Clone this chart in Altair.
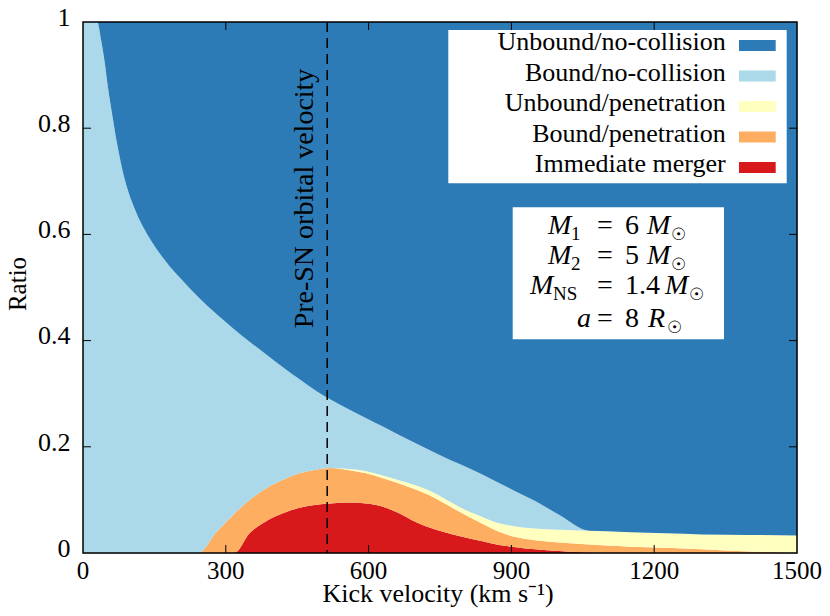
import altair as alt
import pandas as pd

# ---------------- data ----------------
V = [0, 30, 38, 45, 52, 62, 73, 87, 111, 139, 174, 209, 243, 279, 318, 350, 385, 420,
     455, 490, 520, 560, 595, 630, 664, 700, 734, 760, 790, 839, 874, 909, 950, 1000,
     1063, 1100, 1150, 1224, 1300, 1400, 1500]
UNBOUND_NC = [0, 0, 0.034, 0.072, 0.120, 0.178, 0.236, 0.294, 0.357, 0.406,
              0.451, 0.487, 0.519, 0.549, 0.579, 0.602, 0.626, 0.650, 0.673, 0.695,
              0.711, 0.730, 0.746, 0.762, 0.778, 0.794, 0.809, 0.820, 0.832, 0.852,
              0.868, 0.884, 0.902, 0.928, 0.958, 0.959, 0.961, 0.963, 0.965, 0.966, 0.967]
BOUND_NC = [1, 1, 0.966, 0.928, 0.880, 0.822, 0.764, 0.706, 0.643, 0.594,
            0.549, 0.513, 0.481, 0.413, 0.347, 0.298, 0.252, 0.212, 0.177, 0.148,
            0.129, 0.112, 0.100, 0.092, 0.085, 0.079, 0.076, 0.078, 0.081, 0.080,
            0.076, 0.066, 0.052, 0.028, 0, 0, 0, 0, 0, 0, 0]
UNBOUND_PEN = [0, 0, 0, 0, 0, 0, 0, 0, 0, 0,
               0, 0, 0, 0, 0, 0, 0, 0, 0, 0,
               0, 0.002, 0.004, 0.005, 0.006, 0.008, 0.009, 0.009, 0.009, 0.013,
               0.016, 0.020, 0.022, 0.024, 0.026, 0.027, 0.027, 0.027, 0.028, 0.031, 0.032]
BOUND_PEN = [0, 0, 0, 0, 0, 0, 0, 0, 0, 0,
             0, 0, 0, 0.038, 0.074, 0.063, 0.062, 0.063, 0.065, 0.066,
             0.067, 0.061, 0.057, 0.054, 0.056, 0.061, 0.060, 0.054, 0.046, 0.033,
             0.025, 0.019, 0.017, 0.016, 0.015, 0.014, 0.012, 0.010, 0.007, 0.003, 0.001]
MERGER = [0, 0, 0, 0, 0, 0, 0, 0, 0, 0,
          0, 0, 0, 0, 0, 0.037, 0.060, 0.075, 0.085, 0.091,
          0.093, 0.095, 0.093, 0.087, 0.075, 0.058, 0.046, 0.039, 0.032, 0.022,
          0.015, 0.011, 0.007, 0.004, 0.001, 0, 0, 0, 0, 0, 0]

CATS = ["Immediate merger", "Bound/penetration", "Unbound/penetration",
        "Bound/no-collision", "Unbound/no-collision"]
COLORS = ["#d7191c", "#fdae61", "#ffffbf", "#abd9e9", "#2c7bb6"]
LEGEND_ORDER = ["Unbound/no-collision", "Bound/no-collision", "Unbound/penetration",
                "Bound/penetration", "Immediate merger"]

X_TICKS = [0, 300, 600, 900, 1200, 1500]
X_LABELS = ["0", "300", "600", "900", "1200", "1500"]
Y_TICKS = [0, 0.2, 0.4, 0.6, 0.8, 1]
Y_LABELS = ["0", "0.2", "0.4", "0.6", "0.8", "1"]
ORBITAL_V = 513

BOX_LINES = [
    [("M", "i"), ("1", "sub"), ("=", "eq"), ("6", "n"), ("M", "i"), ("☉", "sub")],
    [("M", "i"), ("2", "sub"), ("=", "eq"), ("5", "n"), ("M", "i"), ("☉", "sub")],
    [("M", "i"), ("NS", "sub"), ("=", "eq"), ("1.4", "n"), ("M", "i"), ("☉", "sub")],
    [("a", "i"), ("=", "eq"), ("8", "n"), ("R", "i"), ("☉", "sub")],
]

# ---------------- layout ----------------
W, H = 714, 531
XMAX = 1500
LEFT, TOP = 83.0, 22.0
FONT = "Liberation Serif"
TICK = 8


def dv(px):
    return (px - LEFT) / W * XMAX


def dr(py):
    return 1 - (py - TOP) / H


xs = alt.Scale(domain=[0, XMAX], nice=False, zero=False)
ys = alt.Scale(domain=[0, 1], nice=False, zero=False)


def X(f):
    return alt.X(f"{f}:Q", scale=xs, axis=None)


def Y(f):
    return alt.Y(f"{f}:Q", scale=ys, axis=None)


rows = []
for rank, (cat, vals) in enumerate(zip(CATS, [MERGER, BOUND_PEN, UNBOUND_PEN, BOUND_NC, UNBOUND_NC])):
    for v, f in zip(V, vals):
        rows.append({"v": v, "frac": f, "cat": cat, "rank": rank})
df = pd.DataFrame(rows)

areas = alt.Chart(df).mark_area(interpolate="monotone").encode(
    x=X("v"),
    y=alt.Y("frac:Q", stack="zero", scale=ys, axis=None),
    color=alt.Color("cat:N", scale=alt.Scale(domain=CATS, range=COLORS), legend=None),
    order=alt.Order("rank:Q"),
)

orbital = alt.Chart(pd.DataFrame({"v": [ORBITAL_V]})).mark_rule(
    color="black", strokeWidth=1.5, strokeDash=[10, 6]
).encode(x=X("v"))

orb_text = alt.Chart(pd.DataFrame({"v": [dv(313)], "r": [dr(198.5)], "t": ["Pre-SN orbital velocity"]})).mark_text(
    font=FONT, fontSize=28, angle=270, align="center", baseline="alphabetic", color="black"
).encode(x=X("v"), y=Y("r"), text="t:N")

# legend
leg_box = alt.Chart(pd.DataFrame({"v": [dv(448.3)], "v2": [dv(786.7)], "r": [dr(30)], "r2": [dr(183.3)]})).mark_rect(
    fill="white"
).encode(x=X("v"), x2="v2:Q", y=Y("r"), y2="r2:Q")

LEG_BASE = [50, 80.5, 111, 141.5, 172]
leg_df = pd.DataFrame({
    "cat": LEGEND_ORDER,
    "tv": [dv(725.7)] * 5,
    "r": [dr(b) for b in LEG_BASE],
    "sv": [dv(739)] * 5,
    "sv2": [dv(775.7)] * 5,
    "sr": [dr(b - 10) for b in LEG_BASE],
    "sr2": [dr(b + 1) for b in LEG_BASE],
})
leg_sw = alt.Chart(leg_df).mark_rect().encode(
    x=X("sv"), x2="sv2:Q", y=Y("sr"), y2="sr2:Q",
    color=alt.Color("cat:N", scale=alt.Scale(domain=CATS, range=COLORS), legend=None),
)
leg_txt = alt.Chart(leg_df).mark_text(
    font=FONT, fontSize=26, align="right", baseline="alphabetic", color="black"
).encode(x=X("tv"), y=Y("r"), text="cat:N")

# parameter box
par_box = alt.Chart(pd.DataFrame({"v": [dv(512.7)], "v2": [dv(724)], "r": [dr(207.3)], "r2": [dr(339.3)]})).mark_rect(
    fill="white"
).encode(x=X("v"), x2="v2:Q", y=Y("r"), y2="r2:Q")

BOX_BASE = [234, 264, 294, 327]
BOX_X = [
    [548, 571, 605, 625, 647, 671],
    [548, 571, 605, 625, 647, 671],
    [530, 553, 605, 625, 665, 689],
    [577, 605, 625, 648, 667],
]
pieces = []
for line, base, xsx in zip(BOX_LINES, BOX_BASE, BOX_X):
    for (t, kind), px in zip(line, xsx):
        if kind == "sub":
            size = 17 if t == "☉" else 19
            py = base + 6
        else:
            size = 28
            py = base
        pieces.append({"t": t, "kind": kind, "v": dv(px), "r": dr(py), "s": size})
pdf = pd.DataFrame(pieces)


def piece_layer(kinds, style, align):
    sub = pdf[pdf["kind"].isin(kinds)]
    return alt.Chart(sub).mark_text(
        font=FONT, fontStyle=style, align=align, baseline="alphabetic", color="black"
    ).encode(x=X("v"), y=Y("r"), text="t:N", size=alt.Size("s:Q", scale=None, legend=None))


box_i = piece_layer(["i"], "italic", "left")
box_n = piece_layer(["n", "sub"], "normal", "left")
box_eq = piece_layer(["eq"], "normal", "center")

# inward ticks, tick labels and frame
xt = pd.DataFrame({"v": X_TICKS[1:-1]})
yt = pd.DataFrame({"r": Y_TICKS[1:-1]})
tick_b = alt.Chart(xt).mark_rule(color="black", strokeWidth=1).encode(x=X("v"), y=alt.value(H), y2=alt.value(H - TICK))
tick_t = alt.Chart(xt).mark_rule(color="black", strokeWidth=1).encode(x=X("v"), y=alt.value(0), y2=alt.value(TICK))
tick_l = alt.Chart(yt).mark_rule(color="black", strokeWidth=1).encode(y=Y("r"), x=alt.value(0), x2=alt.value(TICK))
tick_r = alt.Chart(yt).mark_rule(color="black", strokeWidth=1).encode(y=Y("r"), x=alt.value(W), x2=alt.value(W - TICK))

xl = pd.DataFrame({"v": X_TICKS, "t": X_LABELS})
yl = pd.DataFrame({"r": Y_TICKS, "t": Y_LABELS})
xlab = alt.Chart(xl).mark_text(font=FONT, fontSize=25, align="center", baseline="alphabetic", color="black").encode(
    x=X("v"), y=alt.value(H + 25.5), text="t:N")
ylab = alt.Chart(yl).mark_text(font=FONT, fontSize=26, align="right", baseline="alphabetic", dy=3.8, color="black").encode(
    y=Y("r"), x=alt.value(-12.6), text="t:N")

frame = alt.Chart(pd.DataFrame({"a": [0]})).mark_rect(filled=False, stroke="black", strokeWidth=1.5).encode(
    x=alt.value(0), x2=alt.value(W), y=alt.value(0), y2=alt.value(H)
)

# axis titles
xtitle = alt.Chart(pd.DataFrame({"v": [dv(438)], "r": [dr(602)], "t": ["Kick velocity (km s⁻¹)"]})).mark_text(
    font=FONT, fontSize=26, align="center", baseline="alphabetic", color="black"
).encode(x=X("v"), y=Y("r"), text="t:N")
ytitle = alt.Chart(pd.DataFrame({"v": [dv(25.5)], "r": [dr(284)], "t": ["Ratio"]})).mark_text(
    font=FONT, fontSize=25, angle=270, align="center", baseline="alphabetic", color="black"
).encode(x=X("v"), y=Y("r"), text="t:N")

chart = alt.layer(
    areas, orbital, orb_text, leg_box, leg_sw, leg_txt, par_box, box_i, box_n, box_eq,
    tick_b, tick_t, tick_l, tick_r, frame, xlab, ylab, xtitle, ytitle
).properties(
    width=W, height=H,
    autosize=alt.AutoSizeParams(type="none"),
    padding={"left": 75, "top": 14, "right": 25, "bottom": 55},
).configure_view(stroke=None).configure(background="white")

chart.save("out.html", embed_options={"renderer": "svg", "actions": False})
